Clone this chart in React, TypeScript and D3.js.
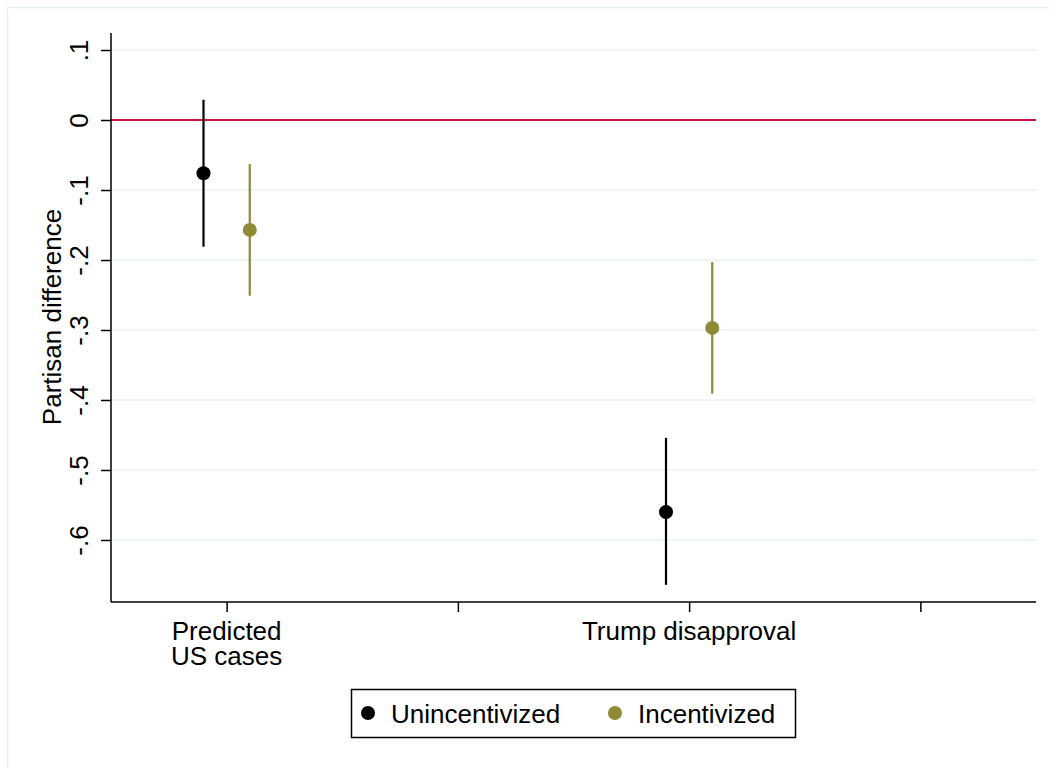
import React, { useEffect, useRef } from 'react';
import * as d3 from 'd3';

// outcomes on the x axis (positions 1 and 3; 2 and 4 are unlabeled ticks)
const outcomes = ['Predicted\nUS cases', 'Trump disapproval'];
const outcomePos = [1, 3];
const xTicks = [1, 2, 3, 4];
const yTicks = [0.1, 0, -0.1, -0.2, -0.3, -0.4, -0.5, -0.6];

const seriesNames = ['Unincentivized', 'Incentivized'];
const seriesColors = ['#000000', '#8f8a35'];
const seriesOffset = [-0.1, 0.1];

// point estimates and 95% CIs, per outcome
const unincEst = [-0.076, -0.56];
const unincLo = [-0.181, -0.664];
const unincHi = [0.029, -0.454];
const incEst = [-0.157, -0.297];
const incLo = [-0.251, -0.391];
const incHi = [-0.063, -0.203];

const W = 1049, H = 768;
const margin = { top: 33, right: 13, bottom: 166, left: 111 };
const FONT = 'Liberation Sans, Arial, Helvetica, sans-serif';

// Stata-style tick label: 0, .1, -.2 ...
const fmtTick = (v: number) => {
  if (Math.abs(v) < 1e-9) return '0';
  return (v < 0 ? '-' : '') + '.' + Math.round(Math.abs(v) * 10);
};

export default function App() {
  const ref = useRef<SVGSVGElement>(null);

  useEffect(() => {
    const svg = d3.select(ref.current);
    svg.selectAll('*').remove();

    const x = d3.scaleLinear().domain([0.5, 4.5]).range([margin.left, W - margin.right]);
    const y = d3.scaleLinear().domain([-0.6886, 0.1243]).range([H - margin.bottom, margin.top]);

    // outer graph region border
    svg.append('rect')
      .attr('x', 7.5).attr('y', 7.5).attr('width', W + 20).attr('height', H + 20)
      .attr('fill', 'none').attr('stroke', '#e6eef1').attr('stroke-width', 1.5);

    // gridlines
    svg.append('g').selectAll('line').data(yTicks).enter().append('line')
      .attr('x1', x(0.5)).attr('x2', x(4.5))
      .attr('y1', d => y(d)).attr('y2', d => y(d))
      .attr('stroke', '#eaf1f4').attr('stroke-width', 1.5);

    // zero reference line
    svg.append('line')
      .attr('x1', x(0.5)).attr('x2', x(4.5))
      .attr('y1', y(0)).attr('y2', y(0))
      .attr('stroke', '#cc1040').attr('stroke-width', 2);

    // y axis
    const yAxis = svg.append('g')
      .attr('transform', 'translate(' + x(0.5) + ',0)')
      .call(d3.axisLeft(y).tickValues(yTicks).tickSize(10).tickPadding(0)
        .tickFormat(d => fmtTick(+d)));
    yAxis.select('.domain').attr('stroke', '#000').attr('stroke-width', 1.5).attr('d', 'M0,' + y.range()[1] + 'V' + y.range()[0]);
    yAxis.selectAll('.tick line').attr('stroke', '#000').attr('stroke-width', 1.5);
    yAxis.selectAll('.tick text')
      .attr('x', 0).attr('y', 0).attr('dy', 0)
      .attr('transform', 'translate(-23,0) rotate(-90)')
      .attr('text-anchor', 'middle')
      .style('font', '26px ' + FONT).attr('fill', '#000');

    // x axis
    const xAxis = svg.append('g')
      .attr('transform', 'translate(0,' + y.range()[0] + ')')
      .call(d3.axisBottom(x).tickValues(xTicks).tickSize(10).tickFormat(() => ''));
    xAxis.select('.domain').attr('stroke', '#000').attr('stroke-width', 1.5).attr('d', 'M' + x(0.5) + ',0H' + x(4.5));
    xAxis.selectAll('.tick line').attr('stroke', '#000').attr('stroke-width', 1.5);

    // category labels
    outcomes.forEach((label, i) => {
      label.split('\n').forEach((line, j) => {
        svg.append('text')
          .attr('x', x(outcomePos[i])).attr('y', y.range()[0] + 38 + j * 25)
          .attr('text-anchor', 'middle')
          .style('font', '26px ' + FONT).attr('fill', '#000')
          .text(line);
      });
    });

    // y title
    svg.append('text')
      .attr('transform', 'translate(61,' + ((y.range()[0] + y.range()[1]) / 2 - 0.5) + ') rotate(-90)')
      .attr('text-anchor', 'middle')
      .style('font', '26px ' + FONT).attr('fill', '#000')
      .text('Partisan difference');

    // estimates with CIs
    const series = [
      { est: unincEst, lo: unincLo, hi: unincHi },
      { est: incEst, lo: incLo, hi: incHi },
    ];
    series.forEach((s, k) => {
      const g = svg.append('g');
      const rows = outcomePos.map((p, i) => ({ p: p + seriesOffset[k], est: s.est[i], lo: s.lo[i], hi: s.hi[i] }));
      g.selectAll('line').data(rows).enter().append('line')
        .attr('x1', d => x(d.p)).attr('x2', d => x(d.p))
        .attr('y1', d => y(d.lo)).attr('y2', d => y(d.hi))
        .attr('stroke', seriesColors[k]).attr('stroke-width', 2.2);
      g.selectAll('circle').data(rows).enter().append('circle')
        .attr('cx', d => x(d.p)).attr('cy', d => y(d.est)).attr('r', 7)
        .attr('fill', seriesColors[k]);
    });

    // legend
    const lg = svg.append('g');
    lg.append('rect')
      .attr('x', 351.5).attr('y', 689.5).attr('width', 444).attr('height', 48)
      .attr('fill', '#fff').attr('stroke', '#000').attr('stroke-width', 1.5);
    const legendX = [368, 615];
    seriesNames.forEach((name, k) => {
      lg.append('circle').attr('cx', legendX[k]).attr('cy', 713).attr('r', 7).attr('fill', seriesColors[k]);
      lg.append('text').attr('x', legendX[k] + 23).attr('y', 722.5)
        .style('font', '26px ' + FONT).attr('fill', '#000').text(name);
    });
  }, []);

  return (
    <div style={{ position: 'absolute', left: 0, top: 0, background: '#fff' }}>
      <svg ref={ref} width={W} height={H} style={{ display: 'block' }} />
    </div>
  );
}
